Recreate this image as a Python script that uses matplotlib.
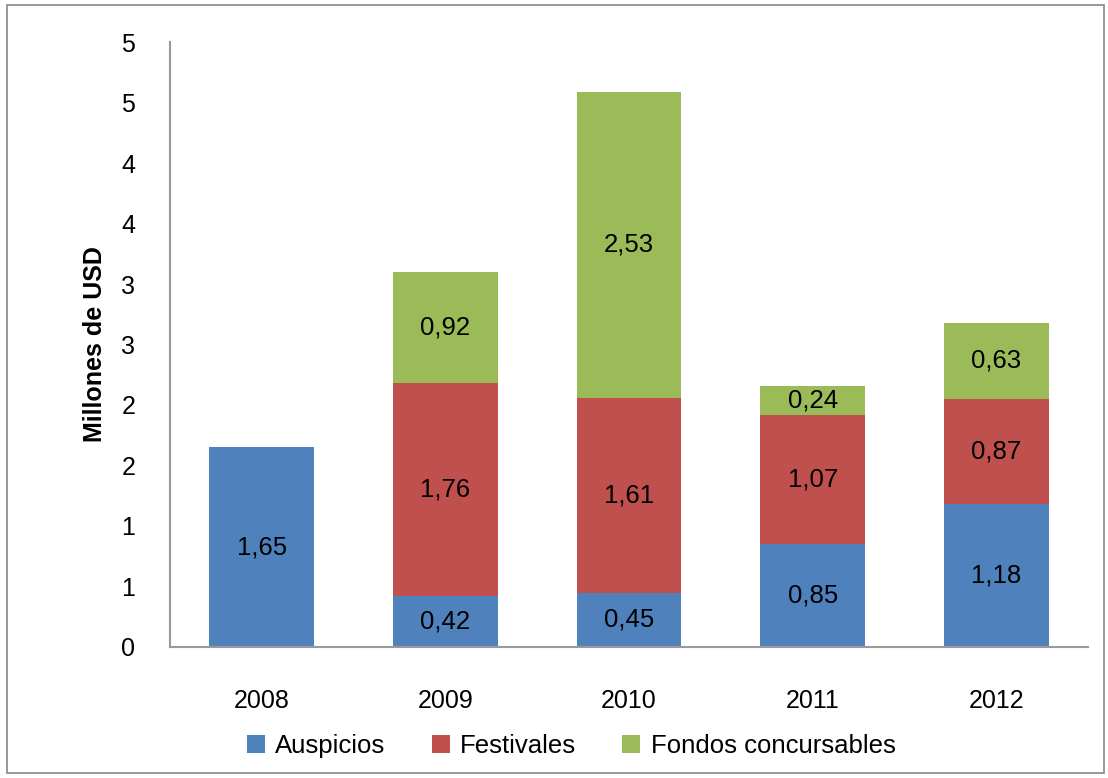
import matplotlib.pyplot as plt
import numpy as np
from matplotlib.patches import Rectangle

years = ["2008", "2009", "2010", "2011", "2012"]
auspicios = [1.65, 0.42, 0.45, 0.85, 1.18]
festivales = [0, 1.76, 1.61, 1.07, 0.87]
fondos = [0, 0.92, 2.53, 0.24, 0.63]
yticks = [0, 0.5, 1, 1.5, 2, 2.5, 3, 3.5, 4, 4.5, 5]
ytick_labels = ["0", "1", "1", "2", "2", "3", "3", "4", "4", "5", "5"]

plt.rcParams['font.family'] = ['Liberation Sans Narrow', 'Liberation Sans', 'DejaVu Sans']

fig = plt.figure(figsize=(11.08, 7.78), dpi=100)
ax = fig.add_axes([0.1534, 0.1684, 0.8286, 0.7776])

x = np.arange(len(years))
w = 0.57
series = [
    ("Auspicios", auspicios, "#4F81BD"),
    ("Festivales", festivales, "#C0504D"),
    ("Fondos concursables", fondos, "#9BBB59"),
]
bottom = np.zeros(len(years))
for name, vals, col in series:
    vals = np.array(vals)
    ax.bar(x, vals, w, bottom=bottom, color=col, label=name, zorder=2)
    for xi, b, v in zip(x, bottom, vals):
        if v > 0:
            ax.text(xi, b + v / 2, f"{v:.2f}".replace(".", ","), ha="center", va="center",
                    fontsize=18.5, color="black")
    bottom = bottom + vals

ax.set_xlim(-0.5, 4.5)
ax.set_ylim(0, 5)
ax.set_yticks(yticks)
ax.set_yticklabels(ytick_labels)
ax.set_xticks(x)
ax.set_xticklabels(years)
ax.tick_params(axis="both", length=0, labelsize=18)
ax.tick_params(axis="x", pad=30)
ax.tick_params(axis="y", pad=25)
for s in ["top", "right"]:
    ax.spines[s].set_visible(False)
for s in ["left", "bottom"]:
    ax.spines[s].set_color("#999999")
    ax.spines[s].set_linewidth(1.5)
ax.set_ylabel("Millones de USD", fontsize=18, fontweight="bold", labelpad=10)

ax.legend(loc="upper center", bbox_to_anchor=(0.437, -0.105), ncol=3, frameon=False,
          fontsize=18.5, handlelength=0.7, handleheight=0.7, columnspacing=1.8, handletextpad=0.4)

fig.patches.append(Rectangle((0.006, 0.007), 0.99, 0.986, transform=fig.transFigure,
                             fill=False, edgecolor="#888888", linewidth=1.2))

fig.savefig("out.png", dpi=100)
